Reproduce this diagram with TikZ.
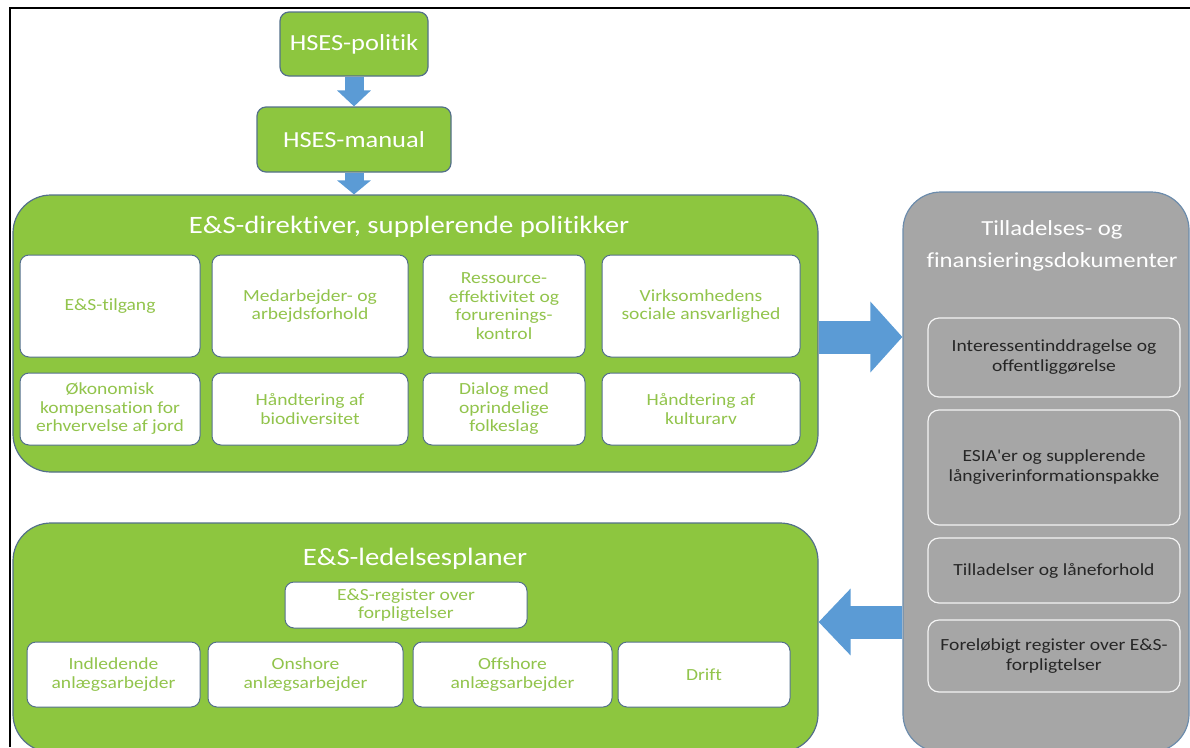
\documentclass[tikz,border=0pt]{standalone}
\usepackage{fontspec}
\newfontfamily\calfont{Carlito}[FakeStretch=1.15, Ligatures=CommonOff]
\usepackage{tikz}
\usetikzlibrary{
    arrows.meta,
    calc
}

\definecolor{esgreen}{RGB}{141,198,63}
\definecolor{estext}{RGB}{146,196,76}
\definecolor{esedge}{RGB}{84,112,138}
\definecolor{esblue}{RGB}{91,155,213}
\definecolor{esgray}{RGB}{166,166,166}
\definecolor{grayedge}{RGB}{108,140,172}

\tikzset{
    greenbox/.style={draw=esedge, line width=1.2pt, fill=esgreen, rounded corners=9pt,
        text=white, font=\calfont\fontsize{23}{28}\selectfont},
    bigpanel/.style={draw=esedge, line width=1.2pt, fill=esgreen, rounded corners=38pt},
    graypanel/.style={draw=grayedge, line width=1.2pt, fill=esgray, rounded corners=38pt},
    paneltitle/.style={text=white, font=\calfont\fontsize{25}{30}\selectfont, align=center},
    whitebox/.style={draw=esedge, line width=1pt, fill=white, rounded corners=9pt,
        text=estext, align=center, font=\calfont\fontsize{17}{18.5}\selectfont},
    graybox/.style={draw=white!88!esgray, line width=1.2pt, fill=esgray, rounded corners=11pt,
        text=black!85, align=center, font=\calfont\fontsize{17}{20}\selectfont},
    blockarrow/.style={draw=esblue}
}

\begin{document}
\begin{tikzpicture}[x=1pt, y=-1pt]

\useasboundingbox (0,0) rectangle (1190,747);
\clip (0,0) rectangle (1190,747);

% Frame
\draw[line width=2.4pt] (10,747) -- (10,8) -- (1190,8);

% Policy and manual
\node[greenbox, minimum width=148pt, minimum height=64pt] (pol) at (354,44) {HSES-politik};
\node[greenbox, minimum width=194pt, minimum height=65pt] (man) at (354,139.5) {HSES-manual};

% Directives panel
\node[bigpanel, minimum width=805pt, minimum height=277pt] (dir) at (415.5,333.5) {};
\node[paneltitle] (dirtitle) at (409,227) {E\&S-direktiver, supplerende politikker};

\node[whitebox, minimum width=180pt, minimum height=102pt] (d1) at (110,306) {E\&S-tilgang};
\node[whitebox, minimum width=196pt, minimum height=102pt] (d2) at (310,306) {Medarbejder- og\\arbejdsforhold};
\node[whitebox, minimum width=162pt, minimum height=102pt] (d3) at (504,306) {Ressource-\\effektivitet og\\forurenings-\\kontrol};
\node[whitebox, minimum width=198pt, minimum height=102pt] (d4) at (701,306) {Virksomhedens\\sociale ansvarlighed};
\node[whitebox, minimum width=180pt, minimum height=72pt] (d5) at (110,409) {Økonomisk\\kompensation for\\erhvervelse af jord};
\node[whitebox, minimum width=196pt, minimum height=72pt] (d6) at (310,409) {Håndtering af\\biodiversitet};
\node[whitebox, minimum width=162pt, minimum height=72pt] (d7) at (504,409) {Dialog med\\oprindelige\\folkeslag};
\node[whitebox, minimum width=198pt, minimum height=72pt] (d8) at (701,409) {Håndtering af\\kulturarv};

% Management plans panel
\node[bigpanel, minimum width=805pt, minimum height=229pt] (plan) at (415.5,637.5) {};
\node[paneltitle] (plantitle) at (415,559) {E\&S-ledelsesplaner};

\node[whitebox, minimum width=242pt, minimum height=46pt] (reg) at (406,605) {E\&S-register over\\forpligtelser};
\node[whitebox, minimum width=173pt, minimum height=65pt] (p1) at (113.5,674.5) {Indledende\\anlægsarbejder};
\node[whitebox, minimum width=195pt, minimum height=65pt] (p2) at (305.5,674.5) {Onshore\\anlægsarbejder};
\node[whitebox, minimum width=199pt, minimum height=65pt] (p3) at (512.5,674.5) {Offshore\\anlægsarbejder};
\node[whitebox, minimum width=172pt, minimum height=65pt] (p4) at (704,674.5) {Drift};

% Permits and financing panel
\node[graypanel, minimum width=286pt, minimum height=560pt] (doc) at (1046,472) {};
\node[paneltitle, font=\calfont\fontsize{21.5}{32}\selectfont] (doctitle) at (1052,246) {Tilladelses- og\\finansieringsdokumenter};

\node[graybox, minimum width=252pt, minimum height=79pt] (g1) at (1054,357.5) {Interessentinddragelse og\\offentliggørelse};
\node[graybox, minimum width=252pt, minimum height=115pt] (g2) at (1054,467.5) {ESIA'er og supplerende\\långiverinformationspakke};
\node[graybox, minimum width=252pt, minimum height=65pt] (g3) at (1054,570.5) {Tilladelser og låneforhold};
\node[graybox, minimum width=252pt, minimum height=72pt] (g4) at (1054,656) {Foreløbigt register over E\&S-\\forpligtelser};

% Arrows
\draw[blockarrow, line width=19pt, -{Triangle[width=33pt,length=16pt]}] (pol) -- (man);
\draw[blockarrow, line width=19pt, -{Triangle[width=33pt,length=14pt]}] (man.south) -- (man.south |- dir.north);

\coordinate (toDoc) at ([yshift=-3.5pt]dir.east);
\draw[blockarrow, line width=33pt, -{Triangle[width=69pt,length=32pt]}] (toDoc) -- (toDoc -| doc.west);

\coordinate (toPlan) at ([yshift=15.5pt]plan.east);
\draw[blockarrow, line width=33pt, -{Triangle[width=65pt,length=32pt]}] (toPlan -| doc.west) -- (toPlan);

\end{tikzpicture}
\end{document}
